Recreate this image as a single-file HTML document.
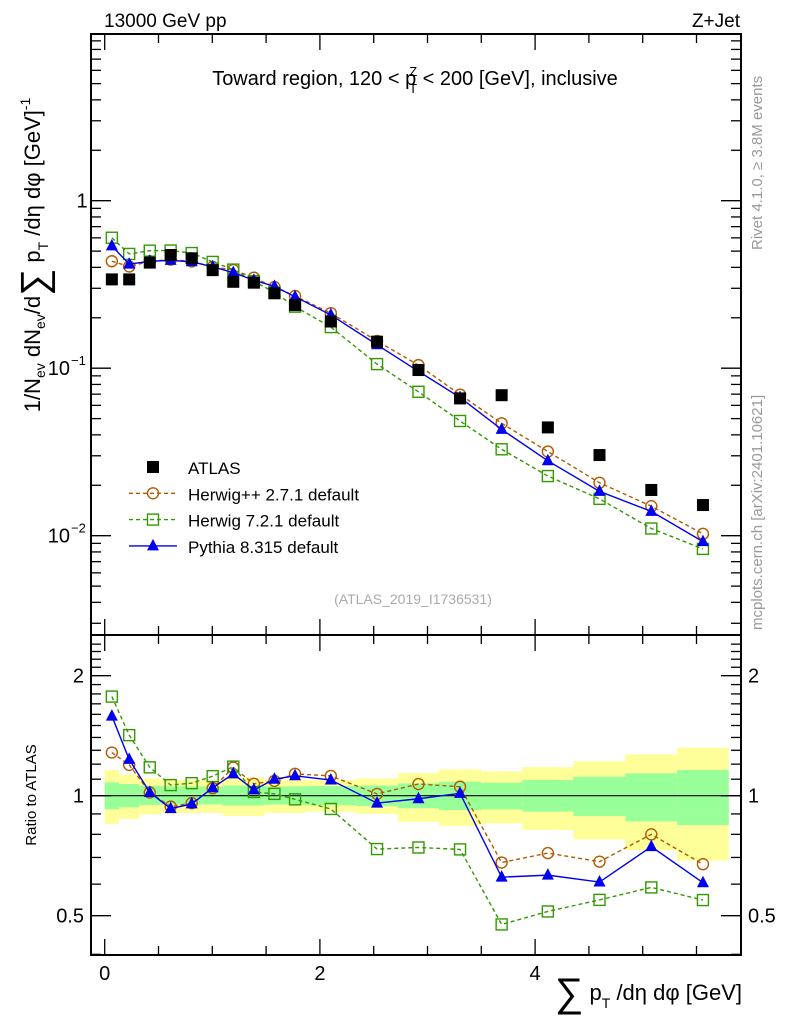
<!DOCTYPE html>
<html><head><meta charset="utf-8"><style>
body{margin:0;background:#fff;font-family:"Liberation Sans",sans-serif}
svg text{font-family:"Liberation Sans",sans-serif}
</style></head><body>
<svg id="c" width="786" height="1024" xmlns="http://www.w3.org/2000/svg">
<text x="104" y="27" font-size="19">13000 GeV pp</text>
<text x="740" y="27" font-size="19" text-anchor="end">Z+Jet</text>
<text x="415" y="85" font-size="20" text-anchor="middle">Toward region, 120 &lt; p<tspan font-size="13" dy="-9" dx="-7">Z</tspan><tspan font-size="13" dy="17" dx="-8">T</tspan><tspan dy="-8"> &lt; 200 [GeV], inclusive</tspan></text>
<text transform="translate(40,255) rotate(-90)" font-size="22" text-anchor="middle">1/N<tspan font-size="14" dy="5">ev</tspan><tspan dy="-5"> dN</tspan><tspan font-size="14" dy="5">ev</tspan><tspan dy="-5">/d</tspan><tspan font-size="38" dy="7">∑</tspan><tspan dy="-7"> p</tspan><tspan font-size="14" dy="8">T</tspan><tspan dy="-8"> /dη dφ  [GeV]</tspan><tspan font-size="14" dy="-10">-1</tspan></text>
<text transform="translate(762,250) rotate(-90)" font-size="15" fill="#999">Rivet 4.1.0, ≥ 3.8M events</text>
<text transform="translate(762,630) rotate(-90)" font-size="15" fill="#999">mcplots.cern.ch [arXiv:2401.10621]</text>
<text x="413" y="604" font-size="14" fill="#aaa" text-anchor="middle">(ATLAS_2019_I1736531)</text>
<text transform="translate(36,795) rotate(-90)" font-size="15" text-anchor="middle">Ratio to ATLAS</text>
<text x="742" y="1000" font-size="22" text-anchor="end"><tspan font-size="40" dy="6">∑</tspan><tspan dy="-6"> p</tspan><tspan font-size="14" dy="8">T</tspan><tspan dy="-8"> /dη dφ [GeV]</tspan></text>
<g id="g"></g>
</svg>
<script>
const edges=[0,0.133,0.322,0.516,0.71,0.907,1.1,1.29,1.483,1.672,1.866,2.337,2.725,3.107,3.498,3.88,4.357,4.84,5.32,5.8];
const atlas=[0.339,0.339,0.427,0.474,0.453,0.385,0.328,0.324,0.28,0.238,0.19,0.144,0.0975,0.066,0.069,0.0443,0.0303,0.01875,0.01524];
const herwigpp=[0.435,0.405,0.435,0.445,0.434,0.402,0.386,0.347,0.305,0.27,0.213,0.1455,0.1043,0.0695,0.0469,0.0318,0.0207,0.015,0.01026];
const herwig7=[0.601,0.481,0.503,0.504,0.487,0.431,0.388,0.331,0.283,0.233,0.176,0.1058,0.0723,0.0484,0.0328,0.0227,0.0166,0.01104,0.00834];
const pythia=[0.537,0.418,0.435,0.44,0.432,0.403,0.372,0.335,0.308,0.267,0.208,0.138,0.0958,0.0669,0.0431,0.028,0.0184,0.01397,0.00922];
const yelHi=[1.16,1.13,1.105,1.095,1.095,1.095,1.11,1.11,1.095,1.095,1.095,1.105,1.14,1.164,1.15,1.18,1.22,1.27,1.32];
const yelLo=[0.85,0.874,0.898,0.905,0.905,0.905,0.89,0.89,0.905,0.905,0.912,0.9,0.86,0.84,0.852,0.82,0.777,0.73,0.687];
const grnHi=[1.08,1.07,1.06,1.055,1.055,1.055,1.06,1.06,1.055,1.055,1.057,1.06,1.074,1.084,1.078,1.095,1.116,1.138,1.16];
const grnLo=[0.924,0.935,0.947,0.95,0.95,0.95,0.945,0.945,0.95,0.95,0.947,0.942,0.93,0.92,0.924,0.912,0.889,0.862,0.844];
const xTicks=[0,2,4];
const L=91,R=741,T1=34,B1=635,T2=635,B2=955;
const X=v=>104.7+v*107.6;
const Y1=v=>200.7-Math.log10(v)*167.5;
const Y2=v=>795.7-Math.log2(v)*120;
const NS="http://www.w3.org/2000/svg",g=document.getElementById('g');
function mk(t,a){const e=document.createElementNS(NS,t);for(const k in a)e.setAttribute(k,a[k]);g.appendChild(e);return e;}
const cx=edges.slice(0,-1).map((e,i)=>(e+edges[i+1])/2);
for(let i=0;i<cx.length;i++){
 let r=mk('rect',{x:X(edges[i]),y:Y2(yelHi[i]),width:X(edges[i+1])-X(edges[i]),height:Y2(yelLo[i])-Y2(yelHi[i]),fill:'#ffff99'});
 
 
 let q=mk('rect',{x:X(edges[i]),y:Y2(grnHi[i]),width:X(edges[i+1])-X(edges[i]),height:Y2(grnLo[i])-Y2(grnHi[i]),fill:'#99ff99'});
 
 
}
mk('line',{x1:L,x2:R,y1:Y2(1),y2:Y2(1),stroke:'#000','stroke-width':1.2});
for(const [t,b] of [[T1,B1],[T2,B2]]){
 const f=mk('rect',{x:L,y:t,width:R-L,height:b-t,fill:'none',stroke:'#000','stroke-width':2});
 
 
 for(let v=0;v<=5.9;v+=0.5){const maj=Math.abs(v%2)<1e-6,len=maj?16:9;
  mk('line',{x1:X(v),x2:X(v),y1:t,y2:t+len,stroke:'#000','stroke-width':1.3});
  mk('line',{x1:X(v),x2:X(v),y1:b,y2:b-len,stroke:'#000','stroke-width':1.3});}
}
xTicks.forEach(v=>{const t=mk('text',{x:X(v),y:980,'font-size':20,'text-anchor':'middle'});t.textContent=v;
 
 });
for(let d=-3;d<=0;d++)for(let m=1;m<10;m++){const v=m*Math.pow(10,d),y=Y1(v);if(y<T1||y>B1)continue;const len=m==1?20:10;
 mk('line',{x1:L,x2:L+len,y1:y,y2:y,stroke:'#000','stroke-width':1.3});mk('line',{x1:R,x2:R-len,y1:y,y2:y,stroke:'#000','stroke-width':1.3});}
[[1,'1'],[0.1,'10'],[0.01,'10']].forEach(([v,s],i)=>{const t=mk('text',{x:i?70:82,y:Y1(v)+7,'font-size':20,'text-anchor':i?'end':'middle'});t.textContent=s;
 
 
 if(i){const e=mk('text',{x:71,y:Y1(v)-3,'font-size':13});e.textContent='−'+i;
 
 }});
for(let v=0.4;v<=2.5;v+=0.1){const y=Y2(v);if(y<T2||y>B2)continue;const maj=[0.5,1,2].some(w=>Math.abs(w-v)<1e-6),len=maj?20:10;
 mk('line',{x1:L,x2:L+len,y1:y,y2:y,stroke:'#000','stroke-width':1.3});mk('line',{x1:R,x2:R-len,y1:y,y2:y,stroke:'#000','stroke-width':1.3});}
[[2,'2'],[1,'1'],[0.5,'0.5']].forEach(([v,s])=>{const t=mk('text',{x:84,y:Y2(v)+7,'font-size':20,'text-anchor':'end'});t.textContent=s;
 
 
 const u=mk('text',{x:748,y:Y2(v)+7,'font-size':20});u.textContent=s;
 
 });
const S=[{d:herwigpp,c:'#b35900',m:'circle',dash:'4,3',n:'herwigpp'},{d:herwig7,c:'#339900',m:'square',dash:'4,3',n:'herwig7'},{d:pythia,c:'#0000ee',m:'tri',dash:'',n:'pythia'}];
function marker(kind,x,y,c){let e;
 if(kind=='circle')e=mk('circle',{cx:x,cy:y,r:5.5,fill:'none',stroke:c,'stroke-width':1.4});
 else if(kind=='square')e=mk('rect',{x:x-5.5,y:y-5.5,width:11,height:11,fill:'none',stroke:c,'stroke-width':1.4});
 else if(kind=='tri')e=mk('polygon',{points:`${x},${y-7} ${x-6},${y+4.5} ${x+6},${y+4.5}`,fill:c});
 else e=mk('rect',{x:x-6,y:y-6,width:12,height:12,fill:c});
 return e;}
S.forEach(s=>{
 const p1=s.d.map((v,i)=>X(cx[i])+','+Y1(v)).join(' ');
 const l1=mk('polyline',{points:p1,fill:'none',stroke:s.c,'stroke-width':1.4,'stroke-dasharray':s.dash});
 
 
 const p2=s.d.map((v,i)=>X(cx[i])+','+Y2(v/atlas[i])).join(' ');
 const l2=mk('polyline',{points:p2,fill:'none',stroke:s.c,'stroke-width':1.4,'stroke-dasharray':s.dash});
 
 
 s.d.forEach((v,i)=>{const a=marker(s.m,X(cx[i]),Y1(v),s.c);
  
  
  const b=marker(s.m,X(cx[i]),Y2(v/atlas[i]),s.c);
  
  });
});
atlas.forEach((v,i)=>{const a=marker('data',X(cx[i]),Y1(v),'#000');
 
 });
const leg=[['ATLAS','data','#000',''],['Herwig++ 2.7.1 default','circle','#b35900','4,3'],['Herwig 7.2.1 default','square','#339900','4,3'],['Pythia 8.315 default','tri','#0000ee','']];
leg.forEach((e,i)=>{const y=467+i*26.3;
 if(i){mk('line',{x1:129,x2:177,y1:y,y2:y,stroke:e[2],'stroke-width':1.4,'stroke-dasharray':e[3]});}
 const m=marker(e[1],153,y,e[2]);
 
 
 const t=mk('text',{x:188,y:y+7,'font-size':17});t.textContent=e[0];
 
 });
</script>
</body></html>
